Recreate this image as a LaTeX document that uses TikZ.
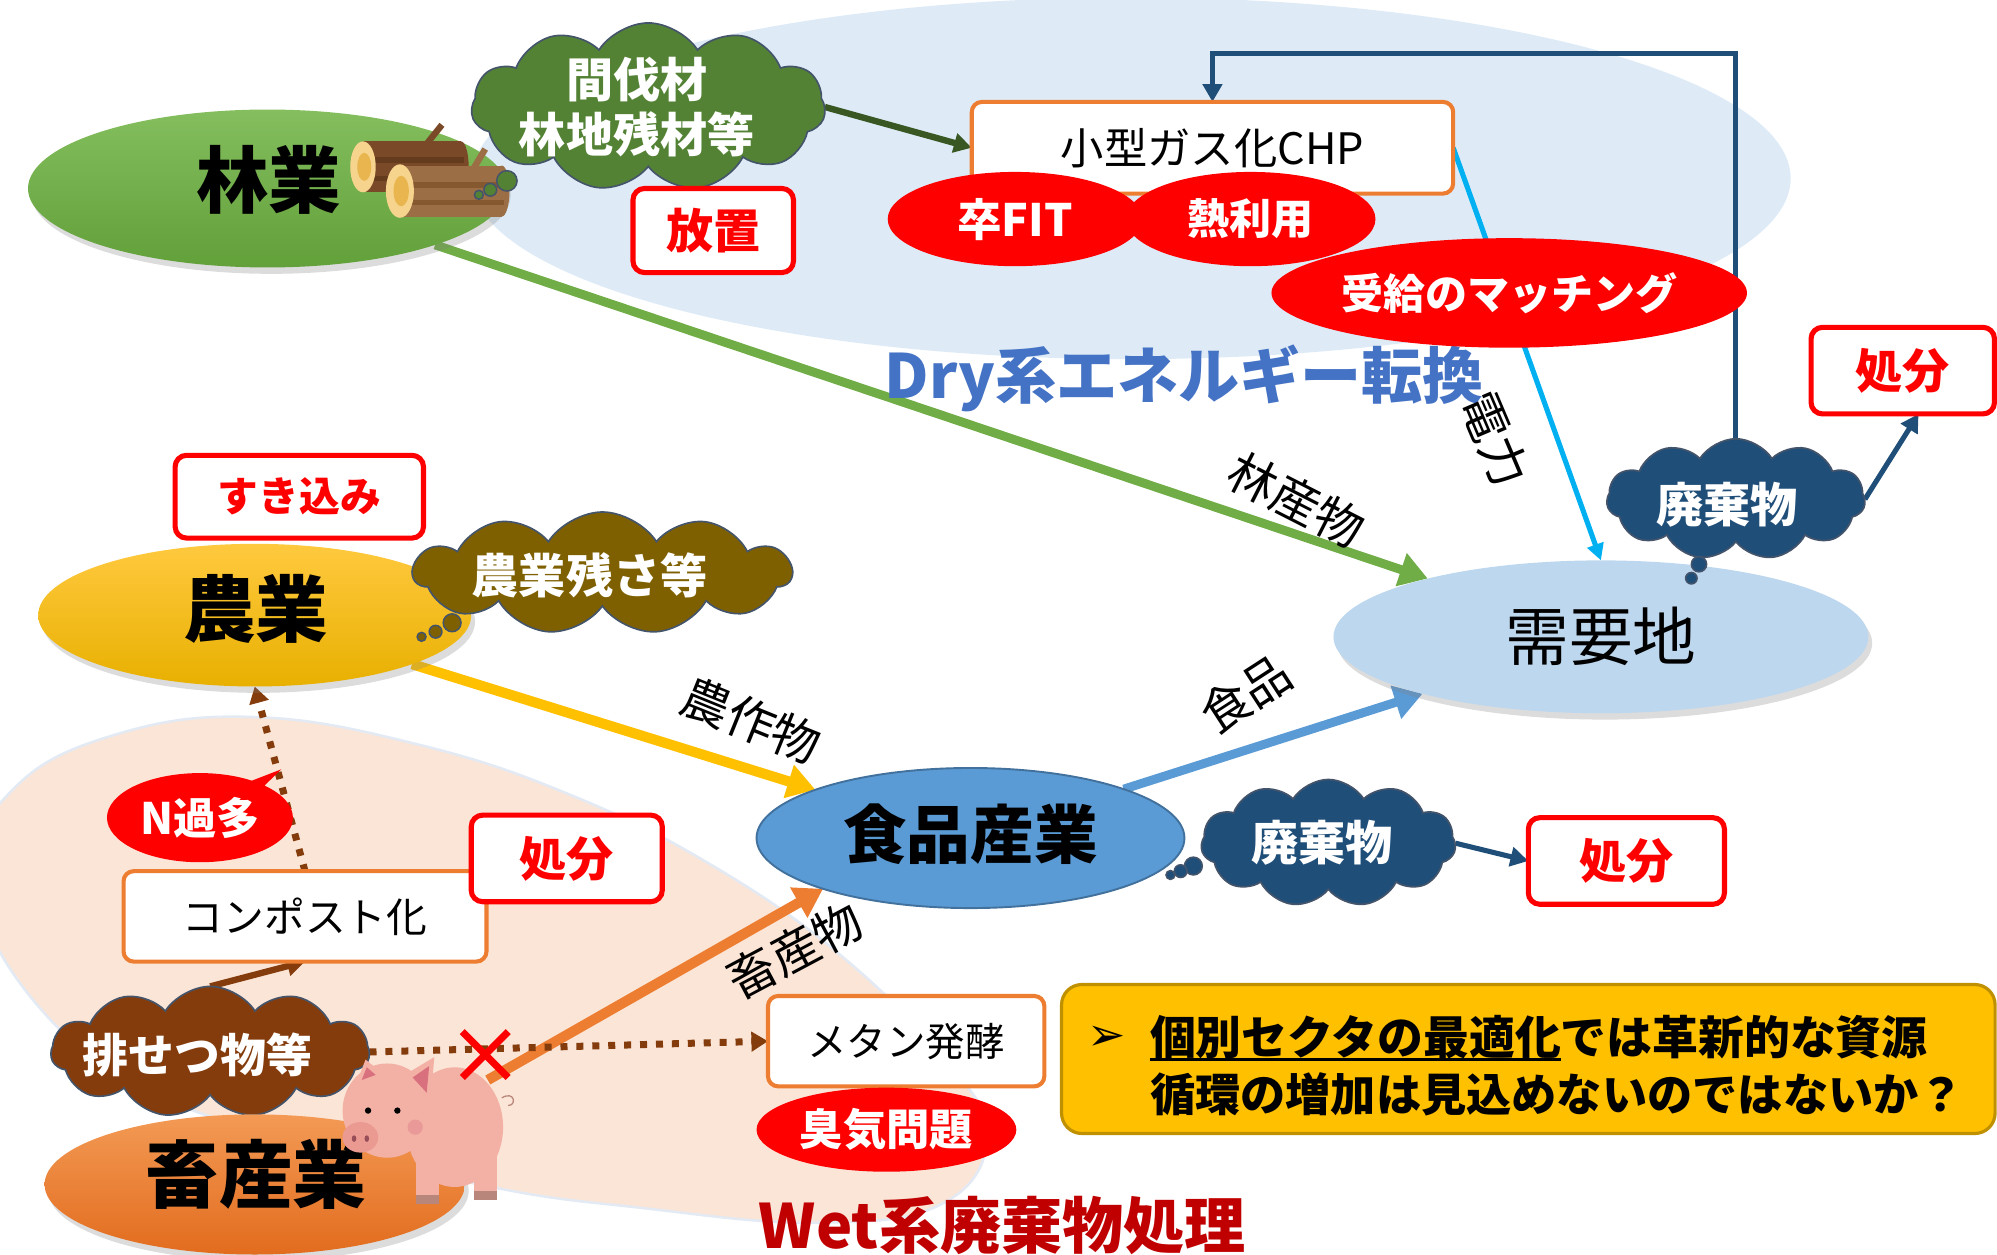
\documentclass[tikz,border=0pt]{standalone}
\usepackage{fontspec}
\setmainfont{Noto Sans CJK JP}[BoldFont={Noto Sans CJK JP Black}]
\newfontfamily\symfont{DejaVu Sans}
\usetikzlibrary{arrows.meta,shapes.geometric,shapes.symbols,shapes.callouts,shadows}

\definecolor{orb}{HTML}{ED7D31}
\definecolor{dkblue}{HTML}{1F4E79}
\definecolor{cyanline}{HTML}{00B0F0}
\definecolor{grn}{HTML}{70AD47}
\definecolor{dkgrn}{HTML}{385723}
\definecolor{cloudgrn}{HTML}{548235}
\definecolor{olive}{HTML}{7F6000}
\definecolor{brn}{HTML}{843C0C}
\definecolor{slate}{HTML}{44546A}
\definecolor{ylw}{HTML}{FFC000}
\definecolor{ylwborder}{HTML}{BF9000}
\definecolor{midblue}{HTML}{5B9BD5}
\definecolor{midblueedge}{HTML}{41719C}
\definecolor{juyoblue}{HTML}{BDD7EE}
\definecolor{dryblue}{HTML}{DEEBF7}
\definecolor{peach}{HTML}{FBE5D6}
\definecolor{peachedge}{HTML}{E3EAF4}
\definecolor{drytext}{HTML}{4472C4}
\definecolor{wettext}{HTML}{C00000}
\definecolor{forestTop}{HTML}{84BE5E}
\definecolor{forestBot}{HTML}{62A03A}
\definecolor{farmTop}{HTML}{FFC93F}
\definecolor{farmBot}{HTML}{E8B000}
\definecolor{stockTop}{HTML}{F39A55}
\definecolor{stockBot}{HTML}{E26C1E}
\definecolor{logdark}{HTML}{7A4A28}
\definecolor{logdarkstripe}{HTML}{653B1E}
\definecolor{loglight}{HTML}{9C6E45}
\definecolor{loglightstripe}{HTML}{86582F}
\definecolor{logend}{HTML}{F6D48E}
\definecolor{logcore}{HTML}{E8B54F}
\definecolor{pigpink}{HTML}{F3B1A6}
\definecolor{pigear}{HTML}{D9707E}
\definecolor{pigsnout}{HTML}{EB9A92}
\definecolor{pighoof}{HTML}{B8867A}

\newcommand\fsz[1]{\fontsize{#1}{#1}\selectfont}
\newsavebox\ulsave
\newcommand\heavyul[1]{\sbox\ulsave{#1}\rlap{\rule[-5pt]{\wd\ulsave}{2.6pt}}\usebox\ulsave}

\pgfdeclarelayer{bg}
\pgfdeclarelayer{lines}
\pgfsetlayers{bg,lines,main}

\begin{document}
\begin{tikzpicture}[x=1pt,y=-1pt,
  every node/.style={inner sep=0pt,outer sep=0pt},
  sector/.style={ellipse, drop shadow={shadow xshift=3pt, shadow yshift=-5pt, opacity=.28}},
  boxred/.style={draw=red, line width=4pt, rounded corners=9pt, fill=white, text=red, font=\fsz{37}\bfseries},
  boxorange/.style={draw=orb, line width=3.2pt, rounded corners=8pt, fill=white, font=\fsz{32}},
  issue/.style={ellipse, fill=red, text=white, font=\fsz{34}\bfseries},
  puff/.style={cloud, cloud puffs=11, cloud puff arc=115, cloud ignores aspect, draw=slate, line width=1.3pt},
  puffword/.style={text=white, font=\fsz{37}\bfseries, align=center},
  bubble/.style={draw=slate, line width=1.2pt},
  flow/.style={-{Triangle[length=22pt,width=26pt]}, line width=7pt},
  thinflow/.style={-{Triangle[length=14pt,width=15pt]}, line width=4pt},
  dotflow/.style={-{Triangle[length=13pt,width=15pt]}, line width=5.5pt, dash pattern=on 5.5pt off 7pt, draw=brn},
  flowlabel/.style={font=\fsz{38}}]

\useasboundingbox (0,0) rectangle (1568,985);
\clip (0,0) rectangle (1568,985);

% ---------- regions ----------
\begin{pgfonlayer}{bg}
  \fill[dryblue] (888,140) ellipse [x radius=518pt, y radius=142pt];
  \filldraw[fill=peach, draw=peachedge, line width=2pt] plot[smooth cycle, tension=0.7] coordinates
    {(-20,690) (10,620) (90,577) (200,563) (330,585) (450,625) (560,680) (660,750)
     (740,830) (775,890) (740,945) (640,960) (500,948) (386,932) (250,898) (126,861) (30,790)};
\end{pgfonlayer}

\node[font=\fsz{48}\bfseries, text=drytext] (drytitle) at (930,297) {Dry系エネルギー転換};
\node[font=\fsz{48}\bfseries, text=wettext] (wettitle) at (787,962) {Wet系廃棄物処理};

% ---------- forestry ----------
\node[sector, minimum width=376pt, minimum height=124pt, top color=forestTop, bottom color=forestBot] (ringyo) at (210,148) {};
\node[font=\fsz{57}\bfseries] (ringyoTxt) at (211,141) {林業};

% logs
\fill[logdark] (285,111) rectangle (362,151);
\fill[logdark] (362,131) ellipse [x radius=6pt, y radius=20pt];
\fill[logdarkstripe] (285,123) rectangle (364,128);
\fill[logdarkstripe] (285,138) rectangle (364,142);
\draw[logdark, line width=5pt] (335,113) -- (347,98);
\fill[logend] (285,131) ellipse [x radius=10pt, y radius=20pt];
\fill[logcore] (286,131) ellipse [x radius=5.5pt, y radius=11pt];
\fill[loglight] (314,130) rectangle (394,170);
\fill[loglight] (394,150) ellipse [x radius=6pt, y radius=20pt];
\fill[loglightstripe] (314,143) rectangle (396,148);
\fill[loglightstripe] (314,157) rectangle (396,161);
\draw[loglight, line width=5pt] (372,132) -- (381,117);
\fill[logend] (314,150) ellipse [x radius=11pt, y radius=21pt];
\fill[logcore] (315,150) ellipse [x radius=6pt, y radius=12pt];

\node[puff, fill=cloudgrn, minimum width=278pt, minimum height=132pt] (kanbatsu) at (509,84) {};
\node[puffword, font=\fontsize{37}{43}\selectfont\bfseries] (kanbatsuTxt) at (500,84) {間伐材\\林地残材等};
\filldraw[fill=cloudgrn, bubble] (398,142) circle (8pt);
\filldraw[fill=cloudgrn, bubble] (385,149) circle (5pt);
\filldraw[fill=cloudgrn, bubble] (376,153) circle (3.5pt);

\node[boxred, minimum width=126pt, minimum height=66pt] (houchi) at (560,181) {放置};

% ---------- energy conversion ----------
\node[boxorange, minimum width=378pt, minimum height=72pt, font=\fsz{34}] (chp) at (952,116) {小型ガス化CHP};
\node[issue, minimum width=200pt, minimum height=74pt, font=\fsz{35}\bfseries] (sotsufit) at (797,172) {卒FIT};
\node[issue, minimum width=196pt, minimum height=74pt, font=\fsz{33}\bfseries] (netsu) at (982,172) {熱利用};
\node[issue, minimum width=356pt, minimum height=86pt, font=\fsz{33}\bfseries] (matching) at (1185,230) {受給のマッチング};

% ---------- demand ----------
\node[sector, fill=juyoblue, minimum width=420pt, minimum height=120pt, font=\fsz{50}] (juyo) at (1257,500) {需要地};

\node[puff, fill=dkblue, minimum width=203pt, minimum height=95pt] (haikiA) at (1363,392) {};
\node[puffword] (haikiATxt) at (1356,396) {廃棄物};
\filldraw[fill=dkblue, bubble] (1334,443) circle (6pt);
\filldraw[fill=dkblue, bubble] (1328,454) circle (4.5pt);
\node[boxred, minimum width=144pt, minimum height=68pt] (shobunA) at (1494,291) {処分};

% ---------- agriculture ----------
\node[sector, minimum width=340pt, minimum height=112pt, top color=farmTop, bottom color=farmBot] (nogyo) at (200,483) {};
\node[font=\fsz{57}\bfseries] (nogyoTxt) at (201,478) {農業};
\node[boxred, minimum width=195pt, minimum height=65pt, font=\fsz{32}\bfseries] (sukikomi) at (235,390) {すき込み};
\node[puff, fill=olive, minimum width=297pt, minimum height=96pt] (zansa) at (473,450) {};
\node[puffword] (zansaTxt) at (463,452) {農業残さ等};
\filldraw[fill=olive, bubble] (355,489) circle (7pt);
\filldraw[fill=olive, bubble] (342,496) circle (5pt);
\filldraw[fill=olive, bubble] (331,500) circle (3.5pt);

% ---------- food industry ----------
\node[ellipse, fill=midblue, draw=midblueedge, line width=1.5pt, minimum width=336pt, minimum height=110pt] (shokuhin) at (762,658) {};
\node[font=\fsz{50}\bfseries] (shokuhinTxt) at (762,655) {食品産業};
\node[puff, fill=dkblue, minimum width=200pt, minimum height=100pt] (haikiB) at (1043,662) {};
\node[puffword] (haikiBTxt) at (1038,662) {廃棄物};
\filldraw[fill=dkblue, bubble] (937,680) circle (7pt);
\filldraw[fill=dkblue, bubble] (927,684) circle (5pt);
\filldraw[fill=dkblue, bubble] (919,687) circle (3.5pt);
\node[boxred, minimum width=154pt, minimum height=68pt] (shobunB) at (1277,676) {処分};

% ---------- livestock ----------
\node[boxorange, minimum width=285pt, minimum height=71pt] (compost) at (239.5,719.5) {コンポスト化};
\node[boxred, minimum width=150pt, minimum height=68pt] (shobunC) at (445,674) {処分};
\node[puff, fill=brn, minimum width=250pt, minimum height=103pt] (haisetsu) at (165,826) {};
\node[puffword, font=\fsz{36}\bfseries] (haisetsuTxt) at (155,828) {排せつ物等};
\filldraw[fill=brn, bubble] (188,882) circle (6pt);
\filldraw[fill=brn, bubble] (186,893) circle (4.5pt);
\node[sector, minimum width=330pt, minimum height=110pt, top color=stockTop, bottom color=stockBot] (chikusan) at (200,930) {};
\node[font=\fsz{58}\bfseries] (chikusanTxt) at (201,922) {畜産業};
\node[boxorange, minimum width=217pt, minimum height=71pt, font=\fsz{31}] (methane) at (711.5,817.5) {メタン発酵};
\node[issue, minimum width=204pt, minimum height=66pt] (shuki) at (696,887) {臭気問題};
\coordinate (pig) at (383,848);
\coordinate (feedtop) at (1100,42);

% ---------- flows ----------
\begin{pgfonlayer}{lines}
  \draw[flow, grn] (ringyo) -- (juyo);
  \draw[flow, ylw, line width=8pt] (nogyo) -- (shokuhin);
  \draw[flow, midblue] (shokuhin) -- (juyo);
  \draw[flow, orb, line width=8pt] (pig) -- (shokuhin.199);
  \draw[thinflow, dkgrn, line width=5pt] (kanbatsu.east) -- (chp.west);
  \draw[-{Triangle[length=13pt,width=13pt]}, cyanline, line width=4pt] (chp.east) -- (juyo.north);
  \draw[thinflow, dkblue] (haikiA.north) |- (feedtop) -| (chp.north);
  \draw[thinflow, dkblue] (haikiA.east) -- (shobunA.-70);
  \draw[thinflow, dkblue] (haikiB.east) -- (shobunB.west);
  \draw[thinflow, brn, line width=5pt] (haisetsu.north) -- (compost.south);
  \draw[dotflow] (compost.north) -- (nogyo.south);
  \draw[dotflow] (haisetsu.east) -- (methane.west);
\end{pgfonlayer}

\node[ellipse callout, fill=red, minimum width=146pt, minimum height=70pt, callout absolute pointer={(221,604)}, callout pointer arc=10, text=white, font=\fsz{34}\bfseries] (nkata) at (157,642) {N過多};

\node[flowlabel, rotate=-27] (lblForest) at (1018,393) {林産物};
\node[flowlabel, rotate=-67] (lblPower) at (1174,345) {電力};
\node[flowlabel, rotate=-22] (lblCrop) at (590,566) {農作物};
\node[flowlabel, rotate=33] (lblFood) at (978,545) {食品};
\node[flowlabel, rotate=28] (lblLive) at (624,746) {畜産物};

% pig
\fill[pigpink] (357,885) ellipse [x radius=38pt, y radius=47pt];
\fill[pigpink] (327,900) rectangle (345,943);
\fill[pigpink] (372,900) rectangle (390,940);
\fill[pighoof] (327,938) rectangle (345,945);
\fill[pighoof] (372,935) rectangle (390,942);
\draw[pighoof, line width=1pt] (394,862) .. controls (404,856) and (406,868) .. (399,868);
\fill[pigpink] (304,872) ellipse [x radius=35pt, y radius=37pt];
\fill[pigpink] (279,853) -- (287,832) -- (301,843) -- cycle;
\fill[pigear] (284,848) -- (288,838) -- (295,844) -- cycle;
\fill[pigpink] (316,845) -- (341,830) -- (338,866) -- cycle;
\fill[pigear] (324,846) -- (337,837) -- (335,858) -- cycle;
\fill[black] (289,872) circle (2.5pt);
\fill[black] (312,872) circle (2.5pt);
\fill[pigear, opacity=.35] (326,885) circle (6pt);
\fill[pigsnout] (283,893) ellipse [x radius=14pt, y radius=12pt];
\fill[pigear!70!black] (278,894) ellipse [x radius=1.8pt, y radius=2.6pt];
\fill[pigear!70!black] (288,894) ellipse [x radius=1.8pt, y radius=2.6pt];

% blocked route
\draw[red, line width=5.5pt] (363,810) -- (399,846);
\draw[red, line width=5.5pt] (399,810) -- (363,846);

% ---------- conclusion ----------
\node[draw=ylwborder, fill=ylw, line width=2.5pt, rounded corners=16pt, minimum width=733pt, minimum height=117pt] (ybox) at (1200,831.5) {};
\node[font=\symfont\fsz{36}] (ybullet) at (869,815) {➢};
\node[anchor=base west, font=\fsz{36}\bfseries] (yl1) at (903,828) {\heavyul{個別セクタの最適化}では革新的な資源};
\node[anchor=base west, font=\fsz{35.5}\bfseries] (yl2) at (903,873) {循環の増加は見込めないのではないか？};

\end{tikzpicture}
\end{document}
